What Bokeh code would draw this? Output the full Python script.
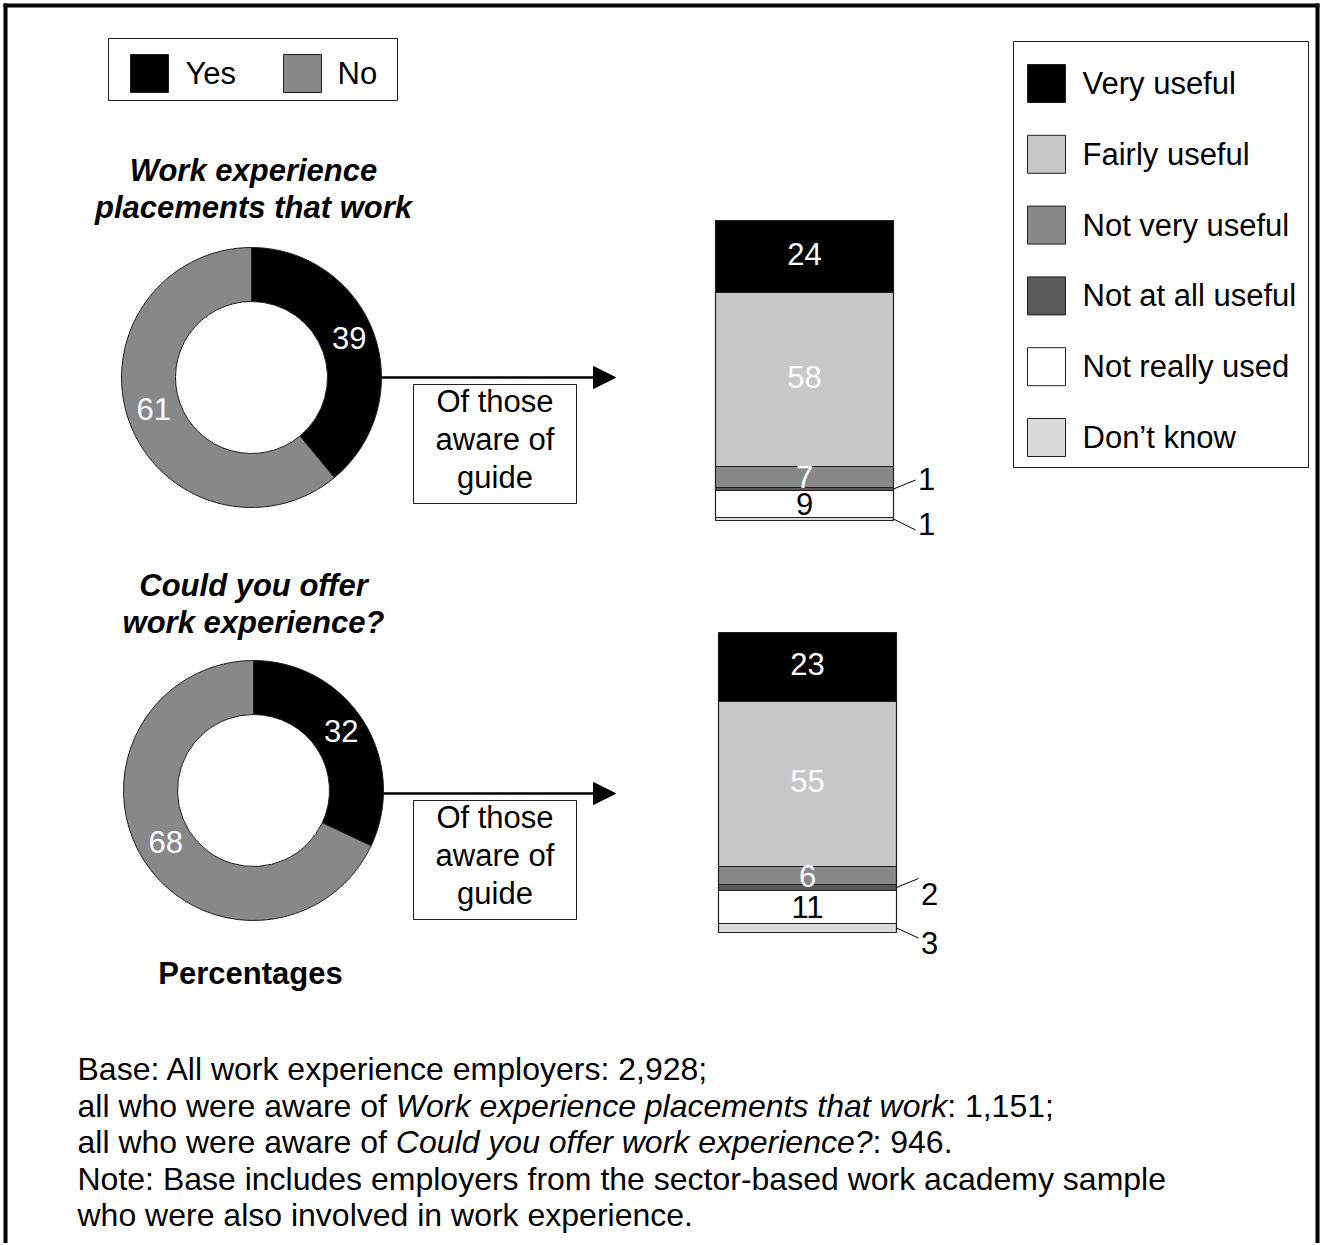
import math
from bokeh.plotting import figure
from bokeh.models import Range1d, Arrow, NormalHead, ColumnDataSource
from bokeh.core.properties import value
from bokeh.embed import file_html
from bokeh.resources import INLINE

# ---------------- data ----------------
yes_no = ["Yes", "No"]
guide_titles = [["Work experience", "placements that work"],
                ["Could you offer", "work experience?"]]
aware_yes = [39, 32]
aware_no = [61, 68]
useful_cats = ["Very useful", "Fairly useful", "Not very useful",
               "Not at all useful", "Not really used", "Don\u2019t know"]
useful_guide1 = [24, 58, 7, 1, 9, 1]
useful_guide2 = [23, 55, 6, 2, 11, 3]
box_lines = ["Of those", "aware of", "guide"]
axis_note = "Percentages"
footnote_lines = [
    [("Base: All work experience employers: 2,928;", "normal")],
    [("all who were aware of ", "normal"), ("Work experience placements that work", "italic"), (": 1,151;", "normal")],
    [("all who were aware of ", "normal"), ("Could you offer work experience?", "italic"), (": 946.", "normal")],
    [("Note: Base includes employers from the sector-based work academy sample", "normal")],
    [("who were also involved in work experience.", "normal")],
]

# ---------------- style / layout ----------------
YESNO_COLORS = ["#000000", "#87888A"]
USE_COLORS = ["#000000", "#C6C7C9", "#87888A", "#58595B", "#FFFFFF", "#DADBDC"]
USE_TEXT = ["white", "white", "white", "white", "black", "black"]
FONT = value("Liberation Sans")
FS = "31px"
EDGE = "#231F20"

OFF = 0
W, H = 1320, 1243

DONUT_C = [(251, 377), (253, 790)]
R_OUT, R_IN, R_LBL = 130, 76, 104
TITLE_Y = [(170, 207), (585, 622)]
TITLE_X = 253
ARROW_Y = [377, 793]
ARROW_END = 615
BOX_X = (413, 576)
BOX_H = 119
BAR_X = [(715, 893), (718, 896)]
BAR_TOP = [220, 632]
PX_PER_PCT = 3.0
# leader-line nudges for small segments (end dy, text dy relative to segment middle)
SMALL = {3: [(-9, -10), (-9, 6)], 5: [(11, 5), (10, 15)]}

ARIAL = {' ': 278, ',': 278, '.': 278, ':': 278, ';': 278, '?': 556, '-': 333}
ARIAL.update({d: 556 for d in "0123456789"})
ARIAL.update(dict(zip("ABCDEFGHIJKLMNOPQRSTUVWXYZ",
                      [667, 667, 722, 722, 667, 611, 778, 722, 278, 500, 667, 556, 833,
                       722, 778, 667, 778, 722, 667, 611, 722, 667, 944, 667, 667, 611])))
ARIAL.update(dict(zip("abcdefghijklmnopqrstuvwxyz",
                      [556, 556, 500, 556, 556, 278, 556, 556, 222, 222, 500, 222, 833,
                       556, 556, 556, 556, 333, 500, 278, 556, 500, 722, 500, 500, 500])))


def text_w(s, px):
    return sum(ARIAL.get(c, 556) for c in s) * px / 1000.0


p = figure(width=W, height=H, x_range=Range1d(OFF, OFF + W), y_range=Range1d(OFF + H, OFF),
           output_backend="svg", toolbar_location=None, x_axis_type=None, y_axis_type=None,
           min_border=0, outline_line_color=None, background_fill_color="white",
           border_fill_color="white")
p.xgrid.visible = False
p.ygrid.visible = False


def txt(x, y, t, color="black", size=FS, style="normal", align="center", baseline="middle"):
    p.text(x=x, y=y, text=t, text_color=color, text_font=FONT, text_font_size=size,
           text_font_style=style, text_align=align, text_baseline=baseline)


# outer frame (left, top, right)
p.segment(x0=[5, 3, 1317], y0=[3, 5, 3], x1=[5, 1319, 1317], y1=[OFF + H, 5, OFF + H],
          line_color="black", line_width=4)

# Yes / No legend
p.quad(left=[108], right=[397], top=[38], bottom=[100], fill_color="white", line_color=EDGE, line_width=1)
yn_sq_x = [130, 283]
yn_txt_x = [185, 337]
p.quad(left=yn_sq_x, right=[x + 38 for x in yn_sq_x], top=[54] * 2, bottom=[92] * 2,
       fill_color=YESNO_COLORS, line_color=EDGE, line_width=1)
txt(yn_txt_x, [73] * 2, yes_no, align="left")

# usefulness legend
p.quad(left=[1013], right=[1308], top=[41], bottom=[467], fill_color="white", line_color=EDGE, line_width=1)
leg_tops = [64 + 70.8 * k for k in range(len(useful_cats))]
p.quad(left=[1027] * 6, right=[1065] * 6, top=leg_tops, bottom=[t + 38 for t in leg_tops],
       fill_color=USE_COLORS, line_color=EDGE, line_width=1)
txt([1082] * 6, [t + 19 for t in leg_tops], useful_cats, align="left")

# donuts, arrows, boxes, bars
bars = [useful_guide1, useful_guide2]
for i in range(2):
    cx, cy = DONUT_C[i]
    # titles
    txt([TITLE_X] * 2, list(TITLE_Y[i]), guide_titles[i], style="bold italic")
    # donut wedges
    vals = [aware_yes[i], aware_no[i]]
    tot = float(sum(vals))
    cum = [0.0]
    for v in vals:
        cum.append(cum[-1] + v / tot)
    ang = lambda c: math.pi / 2 - 2 * math.pi * c
    src = ColumnDataSource(dict(
        x=[cx] * 2, y=[cy] * 2,
        start=[ang(cum[k + 1]) for k in range(2)],
        end=[ang(cum[k]) for k in range(2)],
        color=YESNO_COLORS))
    p.annular_wedge(x="x", y="y", inner_radius=R_IN, outer_radius=R_OUT, start_angle="start",
                    end_angle="end", direction="anticlock", fill_color="color",
                    line_color=EDGE, line_width=1, source=src)
    mids = [ang((cum[k] + cum[k + 1]) / 2) for k in range(2)]
    txt([cx + R_LBL * math.cos(a) for a in mids], [cy - R_LBL * math.sin(a) - 4 for a in mids],
        [str(v) for v in vals], color="white")
    # arrow
    ay = ARROW_Y[i]
    p.add_layout(Arrow(x_start=cx + R_OUT, y_start=ay, x_end=ARROW_END, y_end=ay, line_width=2.5,
                       line_color="black",
                       end=NormalHead(size=22, fill_color="black", line_color="black", line_width=1)))
    # box
    bt = ay + 7
    p.quad(left=[BOX_X[0]], right=[BOX_X[1]], top=[bt], bottom=[bt + BOX_H], fill_color="white",
           line_color=EDGE, line_width=1)
    txt([(BOX_X[0] + BOX_X[1]) / 2] * 3, [bt + 17, bt + 55, bt + 93], box_lines)
    # stacked bar
    bv = bars[i]
    x0, x1 = BAR_X[i]
    tops, bots = [], []
    c = 0
    for v in bv:
        tops.append(BAR_TOP[i] + c * PX_PER_PCT)
        c += v
        bots.append(BAR_TOP[i] + c * PX_PER_PCT)
    p.quad(left=[x0] * 6, right=[x1] * 6, top=tops, bottom=bots, fill_color=USE_COLORS,
           line_color=EDGE, line_width=1.2)
    in_x, in_y, in_t, in_c = [], [], [], []
    lx0, ly0, lx1, ly1, ox, oy, ot = [], [], [], [], [], [], []
    for k, v in enumerate(bv):
        mid = (tops[k] + bots[k]) / 2
        if v > 3:
            in_x.append((x0 + x1) / 2)
            in_y.append(mid - (3 if v > 20 else 0))
            in_t.append(str(v))
            in_c.append(USE_TEXT[k])
        else:
            edy, tdy = SMALL[k][i]
            lx0.append(x1)
            ly0.append(mid)
            lx1.append(x1 + 22)
            ly1.append(mid + edy)
            ox.append(x1 + 33)
            oy.append(mid + tdy)
            ot.append(str(v))
    p.text(x=in_x, y=in_y, text=in_t, text_color=in_c, text_font=FONT, text_font_size=FS,
           text_align="center", text_baseline="middle")
    p.segment(x0=lx0, y0=ly0, x1=lx1, y1=ly1, line_color="black", line_width=1)
    txt(ox, oy, ot)

# "Percentages"
txt([250], [973], [axis_note], style="bold")

# footnote
FN_Y = [1068, 1105, 1141, 1178, 1214]
FN_PX = 32
for line, y in zip(footnote_lines, FN_Y):
    x = 77
    for seg, style in line:
        txt([x], [y], [seg], size="%dpx" % FN_PX, style=style, align="left")
        x += text_w(seg, FN_PX)

open("out.html", "w").write(file_html(p, INLINE))
